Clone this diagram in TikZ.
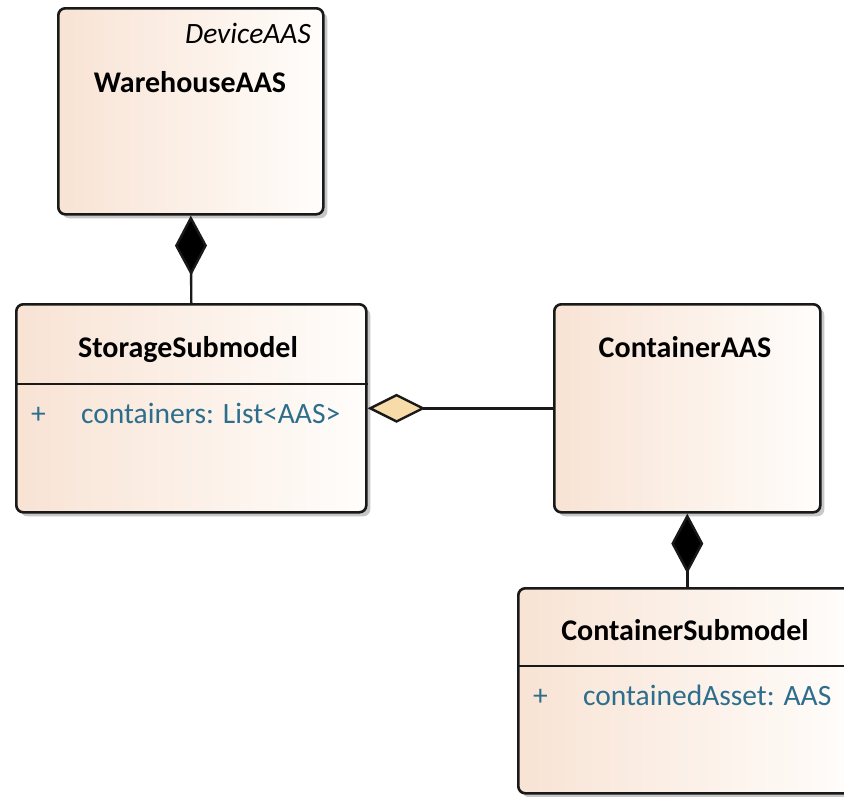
\documentclass[tikz,border=0pt]{standalone}
\usepackage{fontspec}
\setmainfont{Carlito}
\usetikzlibrary{arrows.meta,shadows}
\definecolor{boxL}{RGB}{248,227,212}
\definecolor{boxR}{RGB}{255,253,251}
\definecolor{edge}{RGB}{25,25,25}
\definecolor{attr}{RGB}{45,110,140}
\definecolor{aggfill}{RGB}{247,220,170}
\tikzset{
  classbox/.style={draw=edge, line width=2.6pt, rounded corners=7pt,
    left color=boxL, right color=boxR, inner sep=0pt, anchor=north west,
    drop shadow={shadow xshift=4pt, shadow yshift=-4pt, fill=black, opacity=0.22}},
  titletxt/.style={font=\fontsize{30}{34}\selectfont\bfseries, text=black, inner sep=0pt, anchor=base},
  stereotxt/.style={font=\fontsize{29.5}{34}\selectfont\itshape, text=black, inner sep=0pt, anchor=base east},
  attrtxt/.style={font=\fontsize{29.5}{34}\selectfont, text=attr, inner sep=0pt, anchor=base west},
  sepline/.style={draw=edge, line width=2.4pt},
  comp/.style={draw=edge, line width=2.4pt, -{Diamond[length=60pt,width=32pt,fill=black]}},
  agg/.style={draw=edge, line width=2.4pt, -{Diamond[length=58pt,width=29pt,fill=aggfill]}}
}
\begin{document}
\begin{tikzpicture}[x=1pt,y=-1pt]
\useasboundingbox (0,0) rectangle (844,796);
\clip (0,0) rectangle (844,796);
\fill[white] (0,0) rectangle (844,796);
% boxes
\node[classbox, minimum width=265pt, minimum height=206pt] (W) at (57,7) {};
\node[classbox, minimum width=350pt, minimum height=208pt] (S) at (15,303) {};
\node[classbox, minimum width=266pt, minimum height=208pt] (C) at (553,303) {};
\node[classbox, minimum width=338pt, minimum height=205pt] (CS) at (517,587) {};
% separators
\draw[sepline] ([yshift=-81pt]S.north west) -- ([yshift=-81pt]S.north east);
\draw[sepline] ([yshift=-79pt]CS.north west) -- ([yshift=-79pt]CS.north east);
% texts
\node[stereotxt] (Wst) at (311,43) {DeviceAAS};
\node[titletxt] (Wt) at (190,92) {WarehouseAAS};
\node[titletxt] (St) at (188,357) {StorageSubmodel};
\node[attrtxt] (Sp) at (31,423) {+};
\node[attrtxt] (Sa) at (81,423) {containers: List<AAS>};
\node[titletxt] (Ct) at (685,357) {ContainerAAS};
\node[titletxt] (CSt) at (685,640) {ContainerSubmodel};
\node[attrtxt] (CSp) at (533,705) {+};
\node[attrtxt] (CSa) at (583,705) {containedAsset: AAS};
% connectors
\draw[comp] (S.north) -- (W.south);
\draw[comp] (CS.north) -- (C.south);
\draw[agg] (C.west) -- (S.east);
\end{tikzpicture}
\end{document}
